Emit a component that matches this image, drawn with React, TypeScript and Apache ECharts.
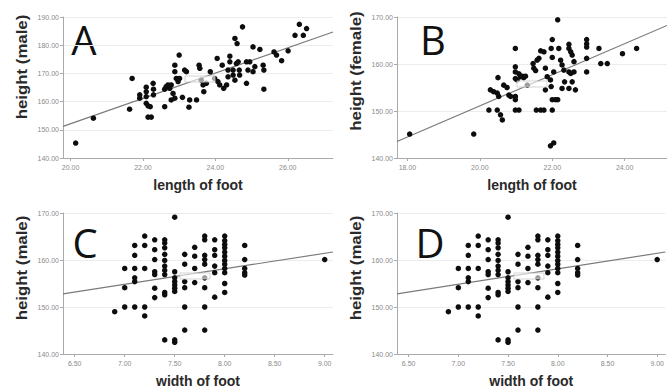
import React, { useEffect, useRef } from "react";
import * as echarts from "echarts";

// Panel A: length of foot vs height (male)
const footLengthMale: number[] = [20.14,20.63,21.63,21.70,21.91,21.91,22.09,22.09,22.09,22.09,22.14,22.14,22.23,22.20,22.28,22.29,22.29,22.60,22.60,22.64,22.69,22.74,22.78,22.83,22.78,22.88,22.88,22.88,22.92,22.97,23.00,23.01,23.09,23.15,23.20,23.27,23.29,23.48,23.55,23.57,23.61,23.66,23.68,23.75,23.86,23.98,24.05,24.07,24.12,24.19,24.23,24.31,24.35,24.35,24.40,24.40,24.49,24.49,24.54,24.54,24.58,24.60,24.63,24.66,24.67,24.75,24.86,24.86,24.90,24.95,25.04,25.04,25.09,25.23,25.32,25.34,25.34,25.62,25.69,25.83,26.01,26.20,26.32,26.43,26.52];
const heightMaleA: number[] = [145.3,154.1,157.3,168.2,162.4,161.2,165.1,163.5,161.8,159.4,158.5,154.5,154.5,158.2,166.5,164.4,162.4,158.2,164.4,165.3,165.9,164.7,165.9,162.9,160.6,161.2,172.9,170.6,168.2,167.1,176.5,168.2,161.5,171.2,170.6,158.0,160.6,160.6,172.9,171.8,167.6,165.9,163.5,166.5,170.6,168.2,175.3,167.1,165.9,172.9,164.7,165.9,171.2,168.8,176.1,174.1,171.2,169.4,167.6,182.4,173.5,180.6,174.1,171.2,169.4,186.5,174.1,166.5,171.2,174.1,179.4,170.6,172.4,178.5,172.9,171.2,164.4,177.6,176.5,174.5,178.0,183.5,187.4,183.5,185.9];
const fitA: number[][] = [[19.79, 151.2], [27.25, 184.7]];

// Panel B: length of foot vs height (female)
const footLengthFemale: number[] = [18.06,19.83,20.25,20.48,20.29,20.38,20.48,20.50,20.52,20.57,20.62,20.66,20.75,20.80,20.85,20.98,20.98,20.98,20.98,20.98,20.98,20.98,21.08,21.03,21.08,21.12,21.17,21.21,21.26,21.31,21.47,21.49,21.54,21.58,21.63,21.56,21.68,21.77,21.68,21.77,21.81,21.81,21.86,21.95,21.97,22.00,22.00,22.00,21.97,22.00,22.04,22.09,22.15,21.95,22.04,22.15,22.18,22.23,22.27,22.32,22.27,22.34,22.46,22.46,22.51,22.55,22.46,22.51,22.55,22.46,22.60,22.60,22.64,22.95,22.95,22.95,22.95,22.95,23.29,23.34,23.52,23.94,24.33];
const heightFemale: number[] = [145.1,145.1,150.2,150.2,154.5,154.1,153.8,157.1,153.1,149.2,148.1,155.5,155.0,153.4,153.1,163.3,159.4,158.3,156.9,153.1,152.4,150.2,150.2,156.6,157.9,157.3,157.4,157.1,157.4,155.5,160.1,159.1,158.6,160.8,161.2,150.2,150.2,150.2,162.8,162.6,159.1,154.5,157.3,156.6,155.2,152.4,150.2,165.2,163.3,161.4,158.3,152.4,152.4,142.6,143.2,169.4,163.3,160.8,159.8,158.7,154.8,156.2,164.2,163.3,162.6,161.9,158.3,158.0,156.2,154.8,160.5,158.3,154.5,165.2,164.3,163.6,161.2,158.3,163.3,160.1,160.1,162.2,163.3];
const fitB: number[][] = [[17.71, 143.5], [25.17, 168.2]];

// Panels C and D: width of foot vs height (male)
const footWidth: number[] = [6.9,7.0,7.0,7.0,7.1,7.1,7.1,7.1,7.1,7.1,7.2,7.2,7.2,7.2,7.2,7.3,7.3,7.3,7.3,7.3,7.3,7.3,7.4,7.4,7.4,7.4,7.4,7.4,7.4,7.4,7.4,7.4,7.4,7.5,7.5,7.5,7.5,7.5,7.5,7.5,7.5,7.5,7.6,7.6,7.6,7.6,7.6,7.6,7.7,7.7,7.7,7.7,7.8,7.8,7.8,7.8,7.8,7.8,7.8,7.8,7.8,7.9,7.9,7.9,7.9,7.9,7.9,8.0,8.0,8.0,8.0,8.0,8.0,8.0,8.0,8.0,8.0,8.0,8.0,8.2,8.2,8.2,8.2,8.2,9.0];
const heightMaleW: number[] = [149.0,158.2,154.1,150.0,163.1,161.0,158.2,156.2,155.4,150.0,165.1,163.1,158.2,150.0,148.1,164.3,162.2,160.1,157.5,156.9,154.0,152.0,164.3,163.6,162.6,161.2,159.9,158.7,157.8,156.9,153.1,152.6,143.0,169.1,157.5,156.2,155.4,154.7,154.0,153.3,143.0,142.5,161.2,159.1,155.4,154.1,150.0,145.1,162.7,160.8,158.2,155.2,165.1,164.3,161.0,160.1,159.1,156.2,154.1,150.0,145.1,164.3,162.2,161.0,158.7,157.3,152.1,165.1,164.1,163.3,162.6,161.7,160.8,159.9,159.1,158.2,157.3,155.0,153.1,163.1,160.1,158.2,157.3,156.8,160.1];
const fitW: number[][] = [[6.383, 152.8], [9.083, 161.7]];

const ticksA: number[] = [20, 22, 24, 26];
const ticksB: number[] = [18, 20, 22, 24];
const ticksW: number[] = [6.5, 7.0, 7.5, 8.0, 8.5, 9.0];

const panelLetters: string[] = ["A", "B", "C", "D"];
const xNames: string[] = ["length of foot", "length of foot", "width of foot", "width of foot"];
const yNames: string[] = ["height (male)", "height (female)", "height (male)", "height (male)"];

const zip = (xs: number[], ys: number[]) => xs.map((x, i) => [x, ys[i]]);

export default function App() {
  const ref = useRef<HTMLDivElement>(null);
  useEffect(() => {
    if (!ref.current) return;
    const chart = echarts.init(ref.current, null, { renderer: "svg" });
    const grids = [
      { left: 63, top: 17, width: 270, height: 141 },
      { left: 397, top: 17, width: 270, height: 141 },
      { left: 63, top: 213, width: 270, height: 142 },
      { left: 397, top: 213, width: 270, height: 142 },
    ];
    const xRanges = [
      [19.79, 27.25, ticksA],
      [17.71, 25.17, ticksB],
      [6.383, 9.083, ticksW],
      [6.383, 9.083, ticksW],
    ] as [number, number, number[]][];
    const yMax = [190, 170, 170, 170];
    const labelStyle = { fontSize: 7, color: "#8a8a8a", fontFamily: "Liberation Sans" };
    const axisLine = { show: true, lineStyle: { color: "#aaa", width: 1 } };
    const xAxis = xRanges.map(([mn, mx, ticks], i) => ({
      type: "value",
      gridIndex: i,
      min: mn,
      max: mx,
      name: xNames[i],
      nameLocation: "middle",
      nameGap: 20,
      nameTextStyle: { fontSize: 14, fontWeight: "bold", color: "#2a2a2a", fontFamily: "Liberation Sans" },
      axisLine,
      axisTick: { show: true, customValues: ticks, length: 3, lineStyle: { color: "#aaa" } },
      axisLabel: { ...labelStyle, margin: 6, customValues: ticks, formatter: (v: number) => v.toFixed(2) },
      splitLine: { show: false },
    }));
    const yAxis = yMax.map((mx, i) => ({
      type: "value",
      gridIndex: i,
      min: 140,
      max: mx,
      interval: 10,
      axisLine,
      axisTick: { show: true, length: 3, lineStyle: { color: "#aaa" } },
      axisLabel: { ...labelStyle, margin: 4, formatter: (v: number) => v.toFixed(2) },
      splitLine: { show: true, lineStyle: { color: "#ececec", width: 1 } },
    }));
    const scatterData = [
      zip(footLengthMale, heightMaleA),
      zip(footLengthFemale, heightFemale),
      zip(footWidth, heightMaleW),
      zip(footWidth, heightMaleW),
    ];
    const fits = [fitA, fitB, fitW, fitW];
    const series: any[] = [];
    for (let i = 0; i < 4; i++) {
      series.push({
        type: "line",
        xAxisIndex: i,
        yAxisIndex: i,
        data: fits[i],
        symbol: "none",
        lineStyle: { color: "#7a7a7a", width: 1.2 },
        z: 1,
      });
      series.push({
        type: "scatter",
        xAxisIndex: i,
        yAxisIndex: i,
        data: scatterData[i],
        symbol: "circle",
        symbolSize: 5.5,
        itemStyle: { color: "#0d0d0d", opacity: 1 },
        z: 2,
      });
    }
    const letterPos = [
      [84, 39],
      [433, 39],
      [85, 242],
      [430, 242],
    ];
    const yNamePos = [
      [22, 67],
      [356, 71],
      [22, 268],
      [356, 268],
    ];
    const boxPos = [
      [185, 76],
      [517, 81],
      [180, 273],
      [514, 273],
    ];
    const graphic: any[] = [];
    for (let i = 0; i < 4; i++) {
      graphic.push({
        type: "text",
        x: letterPos[i][0],
        y: letterPos[i][1],
        style: {
          text: panelLetters[i],
          fontSize: 40,
          fontFamily: "Open Sans",
          fill: "#111",
          textAlign: "center",
          textVerticalAlign: "middle",
        },
      });
      graphic.push({
        type: "text",
        x: yNamePos[i][0],
        y: yNamePos[i][1],
        rotation: Math.PI / 2,
        scaleX: 1.2,
        style: {
          text: yNames[i],
          fontSize: 14,
          fontWeight: "bold",
          fontFamily: "Liberation Sans",
          fill: "#2a2a2a",
          textAlign: "center",
          textVerticalAlign: "middle",
        },
      });
      graphic.push({
        type: "rect",
        x: boxPos[i][0],
        y: boxPos[i][1],
        z: 10,
        shape: { width: 30, height: 6 },
        style: { fill: "rgba(255,255,255,0.6)", stroke: "#c8c8c8", lineWidth: 0.8 },
      });
    }
    chart.setOption({
      animation: false,
      backgroundColor: "#ffffff",
      grid: grids,
      xAxis,
      yAxis,
      series,
      graphic,
    });
    return () => chart.dispose();
  }, []);
  return (
    <div
      ref={ref}
      style={{ position: "fixed", left: 0, top: 0, width: 667, height: 389, background: "#fff" }}
    />
  );
}
